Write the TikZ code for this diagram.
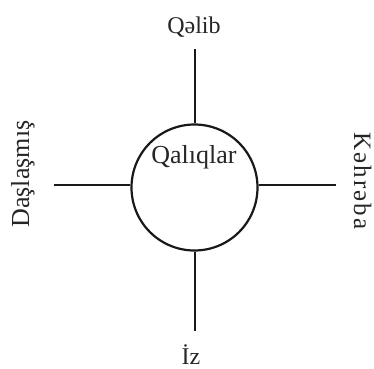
\documentclass[tikz,border=0pt]{standalone}
\usepackage{fontspec}
\setmainfont{Liberation Serif}
\begin{document}
\begin{tikzpicture}[x=1bp,y=-1bp,
  lbl/.style={inner sep=0pt,anchor=base,font=\fontsize{24bp}{28bp}\selectfont,text=black!85},
  big/.style={font=\fontsize{26bp}{30bp}\selectfont},
  conn/.style={line width=2bp,black!90}]
\useasboundingbox (0,0) rectangle (374,369);
\node[circle,draw=black!90,line width=2.2bp,minimum size=126bp,inner sep=0pt] (c) at (194.5,187.5) {};
\coordinate (t) at (194.5,49);
\coordinate (b) at (194.5,331);
\coordinate (l) at (54,185);
\coordinate (r) at (336,185);
\draw[conn] (c.north) -- (t);
\draw[conn] (c.south) -- (b);
\draw[conn] (c.west |- l) -- (l);
\draw[conn] (c.east |- r) -- (r);
\node[lbl] (qelib) at (194,33) {Qəlib};
\node[lbl] (iz) at (191,364) {İz};
\node[lbl,big] (qaliqlar) at (194,163) {Qalıqlar};
\node[lbl,big,rotate=90] (das) at (29,174) {Daşlaşmış};
\node[lbl,font=\fontsize{25bp}{30bp}\selectfont,rotate=-90] (keh) at (354,181) {\addfontfeature{LetterSpace=8}Kəhrəba};
\end{tikzpicture}
\end{document}
